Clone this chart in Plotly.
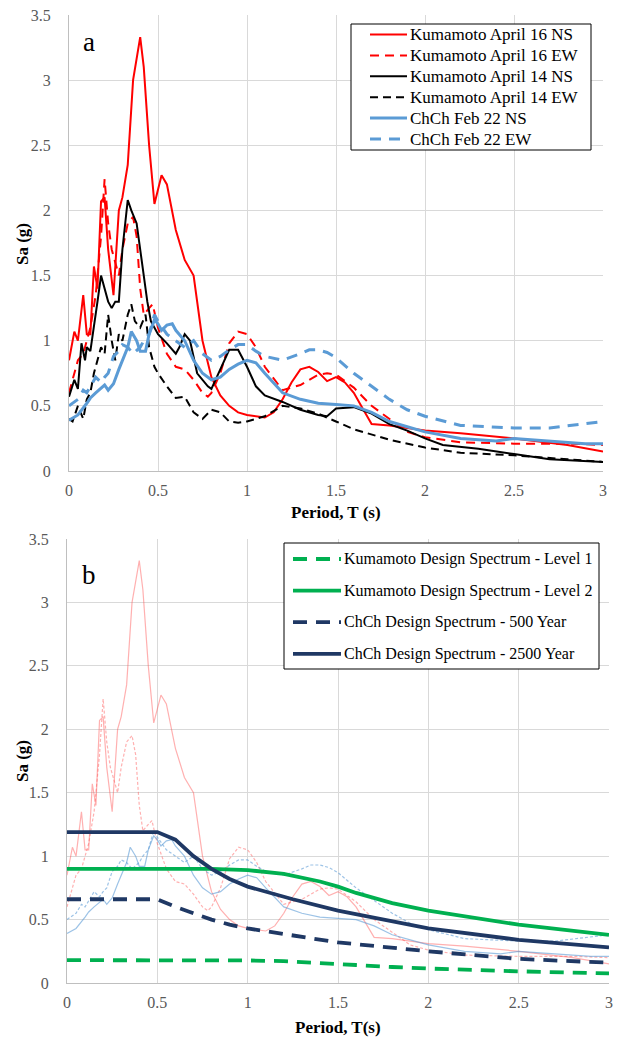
import plotly.graph_objects as go

# ---------------- data ----------------
# Kumamoto April 16 NS
k16ns_T = [0.0, 0.03, 0.05, 0.08, 0.1, 0.12, 0.14, 0.16, 0.18, 0.2, 0.22, 0.25, 0.28, 0.3, 0.33, 0.36, 0.4, 0.42,
           0.45, 0.48, 0.52, 0.55, 0.6, 0.65, 0.7, 0.75, 0.8, 0.85, 0.9, 0.95, 1.0, 1.1, 1.15, 1.2, 1.25, 1.3, 1.35,
           1.4, 1.45, 1.5, 1.55, 1.6, 1.65, 1.7, 1.8, 1.9, 2.0, 2.2, 2.5, 2.8, 3.0]
k16ns_Sa = [0.85, 1.07, 1.0, 1.35, 1.05, 1.05, 1.57, 1.4, 2.07, 2.1, 1.7, 1.35, 2.0, 2.1, 2.35, 3.0, 3.33, 3.1,
            2.5, 2.05, 2.27, 2.2, 1.85, 1.62, 1.5, 1.0, 0.72, 0.58, 0.5, 0.45, 0.43, 0.41, 0.45, 0.55, 0.68, 0.78, 0.8,
            0.76, 0.69, 0.72, 0.68, 0.6, 0.48, 0.36, 0.35, 0.33, 0.31, 0.29, 0.25, 0.2, 0.15]

# Kumamoto April 16 EW
k16ew_T = [0.0, 0.03, 0.05, 0.08, 0.1, 0.12, 0.15, 0.18, 0.2, 0.22, 0.24, 0.26, 0.28, 0.3, 0.33, 0.36, 0.38, 0.4,
           0.42, 0.45, 0.47, 0.5, 0.55, 0.6, 0.65, 0.7, 0.75, 0.78, 0.8, 0.85, 0.9, 0.95, 1.0, 1.05, 1.1, 1.2, 1.3,
           1.4, 1.45, 1.5, 1.6, 1.7, 1.8, 1.9, 2.0, 2.2, 2.5, 2.8, 3.0]
k16ew_Sa = [0.6, 0.75, 0.85, 0.9, 1.0, 1.1, 1.35, 1.8, 2.24, 1.9, 1.7, 1.6, 1.5, 1.7, 1.9, 1.95, 1.8, 1.4,
            1.2, 1.25, 1.28, 1.1, 0.9, 0.8, 0.78, 0.7, 0.6, 0.57, 0.6, 0.75, 0.98, 1.07, 1.05, 0.95, 0.8, 0.62, 0.66,
            0.74, 0.75, 0.74, 0.64, 0.5, 0.4, 0.3, 0.26, 0.22, 0.21, 0.21, 0.2]

# Kumamoto April 14 NS
k14ns_T = [0.0, 0.03, 0.05, 0.07, 0.09, 0.1, 0.12, 0.14, 0.16, 0.18, 0.2, 0.22, 0.24, 0.26, 0.28, 0.3, 0.33, 0.35,
           0.38, 0.4, 0.42, 0.44, 0.46, 0.5, 0.55, 0.6, 0.62, 0.65, 0.68, 0.72, 0.78, 0.8, 0.85, 0.9, 0.95, 1.0,
           1.05, 1.1, 1.2, 1.3, 1.4, 1.45, 1.5, 1.6, 1.7, 1.8, 1.9, 2.0, 2.1, 2.3, 2.5, 2.7, 3.0]
k14ns_Sa = [0.57, 0.7, 0.63, 0.98, 0.85, 0.95, 0.92, 1.1, 1.3, 1.5, 1.4, 1.3, 1.25, 1.3, 1.3, 1.7, 2.08, 2.0,
            1.9, 1.7, 1.5, 1.3, 1.15, 1.05, 0.98, 0.9, 0.95, 1.05, 1.0, 0.75, 0.65, 0.63, 0.78, 0.93, 0.93, 0.8,
            0.65, 0.58, 0.53, 0.47, 0.43, 0.42, 0.48, 0.49, 0.44, 0.36, 0.31, 0.25, 0.2, 0.17, 0.13, 0.09, 0.07]

# Kumamoto April 14 EW
k14ew_T = [0.0, 0.02, 0.05, 0.08, 0.1, 0.12, 0.14, 0.16, 0.18, 0.2, 0.22, 0.24, 0.26, 0.28, 0.3, 0.33, 0.35, 0.37,
           0.4, 0.43, 0.45, 0.48, 0.5, 0.55, 0.6, 0.65, 0.7, 0.75, 0.8, 0.85, 0.9, 0.95, 1.0, 1.1, 1.2, 1.3, 1.4,
           1.5, 1.6, 1.8, 2.0, 2.2, 2.5, 2.8, 3.0]
k14ew_Sa = [0.4, 0.38, 0.5, 0.4, 0.55, 0.6, 0.75, 0.85, 0.95, 0.9, 1.2, 1.0, 0.85, 1.05, 1.0, 1.2, 1.28, 1.15,
            1.1, 1.2, 0.95, 0.8, 0.75, 0.65, 0.56, 0.57, 0.45, 0.4, 0.47, 0.45, 0.38, 0.37, 0.38, 0.42, 0.5, 0.48, 0.44,
            0.38, 0.32, 0.24, 0.18, 0.14, 0.12, 0.09, 0.07]

# ChCh Feb 22 NS
cns_T = [0.0, 0.05, 0.1, 0.12, 0.15, 0.2, 0.22, 0.25, 0.28, 0.3, 0.33, 0.35, 0.38, 0.4, 0.43, 0.45, 0.48, 0.5,
         0.52, 0.55, 0.58, 0.6, 0.65, 0.7, 0.75, 0.8, 0.85, 0.9, 0.95, 1.0, 1.05, 1.1, 1.2, 1.3, 1.4, 1.5, 1.6,
         1.7, 1.8, 1.9, 2.0, 2.2, 2.4, 2.5, 2.7, 2.9, 3.0]
cns_Sa = [0.39, 0.43, 0.52, 0.56, 0.6, 0.66, 0.62, 0.67, 0.78, 0.85, 0.95, 1.07, 1.0, 0.92, 0.92, 1.05, 1.16, 1.13,
          1.08, 1.12, 1.13, 1.08, 1.0, 0.85, 0.75, 0.7, 0.72, 0.78, 0.82, 0.85, 0.83, 0.75, 0.6, 0.55, 0.52, 0.51, 0.5,
          0.45, 0.38, 0.34, 0.3, 0.25, 0.23, 0.25, 0.23, 0.21, 0.21]

# ChCh Feb 22 EW
cew_T = [0.0, 0.05, 0.08, 0.1, 0.15, 0.18, 0.2, 0.22, 0.25, 0.28, 0.3, 0.33, 0.36, 0.4, 0.42, 0.45, 0.48, 0.5,
         0.55, 0.6, 0.65, 0.7, 0.75, 0.8, 0.85, 0.9, 0.95, 1.0, 1.05, 1.1, 1.2, 1.3, 1.35, 1.4, 1.45, 1.5, 1.6,
         1.7, 1.8, 1.9, 2.0, 2.2, 2.5, 2.7, 2.9, 3.0]
cew_Sa = [0.5, 0.55, 0.62, 0.6, 0.72, 0.68, 0.72, 0.75, 0.88, 0.92, 0.97, 0.95, 0.9, 0.95, 1.0, 1.05, 1.2, 1.15,
          1.05, 1.0, 0.95, 1.0, 0.9, 0.85, 0.88, 0.93, 0.97, 0.97, 0.92, 0.88, 0.85, 0.9, 0.93, 0.93, 0.91, 0.87, 0.75,
          0.65, 0.55, 0.47, 0.42, 0.35, 0.33, 0.33, 0.36, 0.38]

# Design spectra
kl2_T = [0.0, 0.8, 1.0, 1.2, 1.4, 1.5, 1.6, 1.8, 2.0, 2.5, 3.0]
kl2_Sa = [0.9, 0.9, 0.89, 0.86, 0.8, 0.76, 0.71, 0.63, 0.57, 0.46, 0.38]
kl1_T = [0.0, 0.8, 1.0, 1.2, 1.4, 1.5, 1.6, 1.8, 2.0, 2.5, 3.0]
kl1_Sa = [0.18, 0.18, 0.178, 0.172, 0.16, 0.152, 0.142, 0.126, 0.114, 0.092, 0.076]
c2500_T = [0.0, 0.5, 0.6, 0.7, 0.8, 0.9, 1.0, 1.25, 1.5, 2.0, 2.5, 3.0]
c2500_Sa = [1.19, 1.19, 1.13, 1.0, 0.9, 0.82, 0.76, 0.66, 0.57, 0.43, 0.34, 0.28]
c500_T = [0.0, 0.5, 0.6, 0.7, 0.8, 0.9, 1.0, 1.5, 2.0, 2.5, 3.0]
c500_Sa = [0.66, 0.66, 0.6, 0.55, 0.5, 0.46, 0.43, 0.32, 0.25, 0.19, 0.16]

x_ticks = [0, 0.5, 1, 1.5, 2, 2.5, 3]
y_ticks = [0, 0.5, 1, 1.5, 2, 2.5, 3, 3.5]

# ---------------- figure ----------------
W, H = 619, 1041
FONT = "Liberation Serif"
RED, BLACK, BLUE = "#ff0000", "#000000", "#5b9bd5"
GREEN, NAVY = "#00b050", "#1f3864"
PRED, PBLUE = "rgba(255,80,80,0.45)", "rgba(91,155,213,0.6)"

fig = go.Figure()

def add(x, y, name, color, width, dash, xa, ya):
    fig.add_trace(go.Scatter(x=x, y=y, name=name, mode="lines",
                             line=dict(color=color, width=width, dash=dash),
                             xaxis=xa, yaxis=ya, showlegend=False))

top_series = [
    (k16ns_T, k16ns_Sa, "Kumamoto April 16 NS", RED, 2, "solid"),
    (k16ew_T, k16ew_Sa, "Kumamoto April 16 EW", RED, 2, "9px,6px"),
    (k14ns_T, k14ns_Sa, "Kumamoto April 14 NS", BLACK, 2, "solid"),
    (k14ew_T, k14ew_Sa, "Kumamoto April 14 EW", BLACK, 2, "8px,5px"),
    (cns_T, cns_Sa, "ChCh Feb 22 NS", BLUE, 3, "solid"),
    (cew_T, cew_Sa, "ChCh Feb 22 EW", BLUE, 3, "11px,8px"),
]
faint_series = [
    (k16ns_T, k16ns_Sa, "Kumamoto April 16 NS", PRED, 1.2, "solid"),
    (k16ew_T, k16ew_Sa, "Kumamoto April 16 EW", PRED, 1.2, "3px,2px"),
    (cns_T, cns_Sa, "ChCh Feb 22 NS", PBLUE, 1.2, "solid"),
    (cew_T, cew_Sa, "ChCh Feb 22 EW", PBLUE, 1.2, "3px,2px"),
]
design_series = [
    (kl1_T, kl1_Sa, "Kumamoto Design Spectrum - Level 1", GREEN, 3.8, "14px,9px"),
    (kl2_T, kl2_Sa, "Kumamoto Design Spectrum - Level 2", GREEN, 3.8, "solid"),
    (c500_T, c500_Sa, "ChCh Design Spectrum - 500 Year", NAVY, 3.8, "14px,9px"),
    (c2500_T, c2500_Sa, "ChCh Design Spectrum - 2500 Year", NAVY, 3.8, "solid"),
]

for s in top_series:
    add(*s, "x", "y")
for s in faint_series:
    add(*s, "x2", "y2")
for s in design_series:
    add(*s, "x2", "y2")

tick_font = dict(family=FONT, size=16, color="#595959")
title_font = dict(family=FONT, size=17, color="#000000")

def xaxis(dom, anchor):
    return dict(domain=dom, range=[0, 3], tickvals=x_ticks, ticktext=[f"{v:g}" for v in x_ticks],
                showgrid=True, gridcolor="#d9d9d9", gridwidth=1, zeroline=False,
                showline=True, linecolor="#bfbfbf", linewidth=1, automargin=False,
                ticks="", tickfont=tick_font, anchor=anchor, ticklabelstandoff=5)

def yaxis(dom, anchor):
    return dict(domain=dom, range=[0, 3.5], tickvals=y_ticks, ticktext=[f"{v:g}" for v in y_ticks],
                showgrid=True, gridcolor="#d9d9d9", gridwidth=1, zeroline=False,
                showline=True, linecolor="#bfbfbf", linewidth=1, automargin=False,
                ticks="", tickfont=tick_font, anchor=anchor, ticklabelstandoff=14)

shapes, annotations = [], []

def px(x):
    return x / W

def py(y):
    return 1 - y / H

def manual_legend(box, entries, sym_x0, sym_x1, text_x, y0, dy, fs):
    x0, y_top, x1, y_bot = box
    shapes.append(dict(type="rect", xref="paper", yref="paper", x0=px(x0), x1=px(x1), y0=py(y_bot), y1=py(y_top),
                       line=dict(color="#000000", width=1), fillcolor="white", layer="above"))
    for i, (_, _, name, color, width, dash) in enumerate(entries):
        yc = y0 + i * dy
        shapes.append(dict(type="line", xref="paper", yref="paper", x0=px(sym_x0), x1=px(sym_x1),
                           y0=py(yc), y1=py(yc), line=dict(color=color, width=width, dash=dash), layer="above"))
        annotations.append(dict(text=name, xref="paper", yref="paper", x=px(text_x), y=py(yc),
                                xanchor="left", yanchor="middle", showarrow=False,
                                font=dict(family=FONT, size=fs, color="#000000")))

manual_legend((351, 24, 591, 150), top_series, 370, 407, 408, 34.5, 20.9, 17)
manual_legend((284, 543, 599, 669), design_series, 293, 341, 342, 559, 31.6, 16)

def title_ann(text, x, y, angle=0):
    annotations.append(dict(text=f"<b>{text}</b>", xref="paper", yref="paper", x=px(x), y=py(y),
                            xanchor="center", yanchor="middle", showarrow=False, textangle=angle,
                            font=title_font))

title_ann("Period, T (s)", 336, 512)
title_ann("Sa (g)", 22, 244, -90)
title_ann("Period, T(s)", 338, 1027)
title_ann("Sa (g)", 22, 761, -90)

annotations += [
    dict(text="a", x=0.07, y=3.29, xref="x", yref="y", showarrow=False, xanchor="left",
         font=dict(family=FONT, size=27, color="#000000")),
    dict(text="b", x=0.07, y=3.22, xref="x2", yref="y2", showarrow=False, xanchor="left",
         font=dict(family=FONT, size=27, color="#000000")),
]

fig.update_layout(
    width=W, height=H, margin=dict(l=0, r=0, t=0, b=0, autoexpand=False),
    paper_bgcolor="white", plot_bgcolor="white", showlegend=False,
    xaxis=xaxis([69 / W, 603 / W], "y"),
    yaxis=yaxis([1 - 471 / H, 1 - 15 / H], "x"),
    xaxis2=xaxis([67 / W, 609 / W], "y2"),
    yaxis2=yaxis([1 - 983 / H, 1 - 539 / H], "x2"),
    shapes=shapes, annotations=annotations,
)

fig.write_html("out.html")
